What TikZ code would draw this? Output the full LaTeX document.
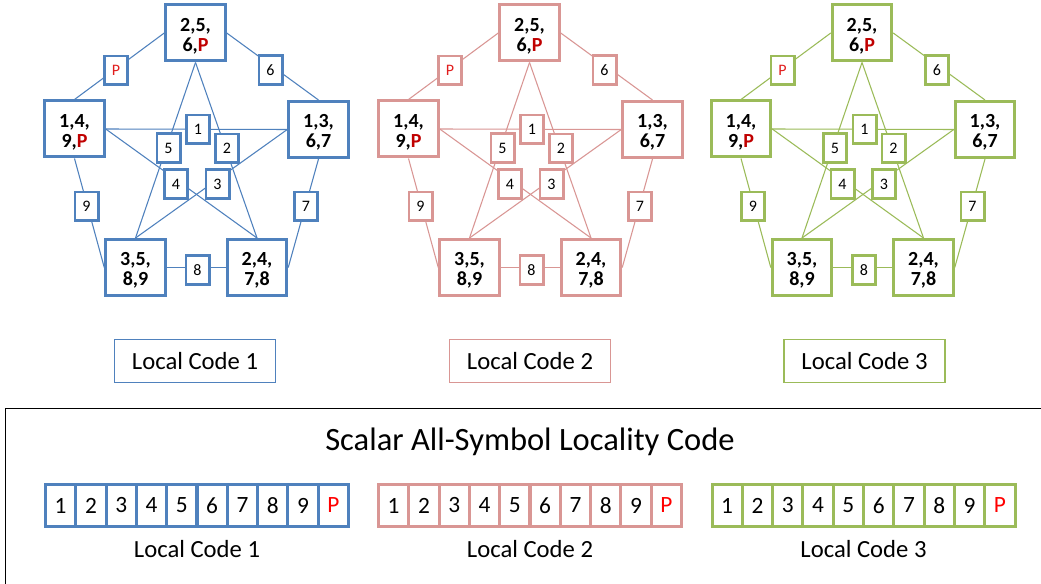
\documentclass[tikz,border=0pt]{standalone}
\usepackage{fontspec}
\setmainfont{Carlito}
\definecolor{cblue}{RGB}{79,129,189}
\definecolor{cpink}{RGB}{217,150,148}
\definecolor{cgreen}{RGB}{155,187,89}
\definecolor{pdark}{RGB}{192,0,0}
\definecolor{pmid}{RGB}{225,30,30}
\definecolor{pred}{RGB}{255,0,0}
\newcommand\toppad{\rule{0pt}{14.5pt}}
\tikzset{
  big/.style={draw=#1, line width=2.25pt, fill=white, minimum width=44.6pt,
    minimum height=42pt, inner sep=0pt, align=center,
    font=\fontsize{15}{15}\selectfont\bfseries},
  small/.style={draw=#1, line width=1.9pt, fill=white, minimum width=17.6pt,
    minimum height=21.4pt, inner sep=0pt, font=\fontsize{12}{14}\selectfont},
  edge/.style={draw=#1, line width=0.8pt},
  lbl/.style={draw=#1, line width=1pt, minimum width=120.75pt,
    minimum height=32.25pt, inner sep=0pt, font=\fontsize{18.5}{20}\selectfont},
  cell/.style={draw=#1, line width=2.25pt, minimum width=22.7pt,
    minimum height=31.5pt, inner sep=0pt, font=\fontsize{17.5}{20}\selectfont},
  caption/.style={anchor=base, inner sep=0pt, font=\fontsize{18.5}{20}\selectfont},
}
\begin{document}
\begin{tikzpicture}[x=0.75pt, y=-0.75pt]
\clip (0,0) rectangle (1041,584);
\fill[white] (0,0) rectangle (1041,584);
\foreach \i/\off/\col in {1/0/cblue, 2/334/cpink, 3/666.5/cgreen}{
\begin{scope}[shift={(\off,0)}]
  \node[big=\col] (T\i)  at (195.5,33)   {\toppad 2,5,\\6,\textcolor{pdark}{P}};
  \node[big=\col] (L\i)  at (74.5,129)   {\toppad 1,4,\\9,\textcolor{pdark}{P}};
  \node[big=\col] (R\i)  at (318.5,129.5) {\toppad 1,3,\\6,7};
  \node[big=\col] (BL\i) at (135.5,267.5) {\toppad 3,5,\\8,9};
  \node[big=\col] (BR\i) at (257,267.5)   {\toppad 2,4,\\7,8};
  % outer pentagon
  \draw[edge=\col] (T\i.west) -- (L\i.north);
  \draw[edge=\col] (T\i.east) -- (R\i.north);
  \draw[edge=\col] (L\i.south) -- (BL\i.west);
  \draw[edge=\col] (R\i.south) -- (BR\i.east);
  \draw[edge=\col] (BL\i.east) -- (BR\i.west);
  % star
  \draw[edge=\col] (T\i.south) -- (BL\i.north);
  \draw[edge=\col] (T\i.south) -- (BR\i.north);
  \draw[edge=\col] (L\i.east) -- (R\i.west);
  \draw[edge=\col] (L\i.east) -- (BR\i.north);
  \draw[edge=\col] (R\i.west) -- (BL\i.north);
  % small boxes
  \node[small=\col] (sP\i) at (116,70.5)  {\textcolor{pmid}{P}};
  \node[small=\col] (s6\i) at (270.5,70)  {6};
  \node[small=\col] (s1\i) at (198,129.5) {1};
  \node[small=\col] (s5\i) at (168.5,148) {5};
  \node[small=\col] (s2\i) at (227,148.5) {2};
  \node[small=\col] (s4\i) at (176,184)   {4};
  \node[small=\col] (s3\i) at (217.5,184) {3};
  \node[small=\col] (s9\i) at (86.5,206.5) {9};
  \node[small=\col] (s7\i) at (306,206.5) {7};
  \node[small=\col] (s8\i) at (197.5,270) {8};
\end{scope}
}
\node[lbl=cblue]  (lc1) at (195,361)   {Local Code 1};
\node[lbl=cpink]  (lc2) at (530,361)   {Local Code 2};
\node[lbl=cgreen] (lc3) at (864.5,361) {Local Code 3};
% bottom frame
\draw[line width=1.25pt, black] (5.5,408.5) rectangle (1060,620);
\node[anchor=base, inner sep=0pt, font=\fontsize{24.4}{28}\selectfont] (title) at (530,450.5)
  {Scalar All-Symbol Locality Code};
\foreach \j/\c/\col in {1/197/cblue, 2/530/cpink, 3/863.5/cgreen}{
  \foreach \k/\t in {1/1,2/2,3/3,4/4,5/5,6/6,7/7,8/8,9/9}{
    \node[cell=\col] (c\j\k) at ({\c+(\k-5.5)*30.3},505.5) {\t};
  }
  \node[cell=\col] (c\j P) at ({\c+4.5*30.3},505.5) {\textcolor{pred}{P}};
  \node[caption] (cap\j) at (\c,557) {Local Code \j};
}
\end{tikzpicture}
\end{document}
